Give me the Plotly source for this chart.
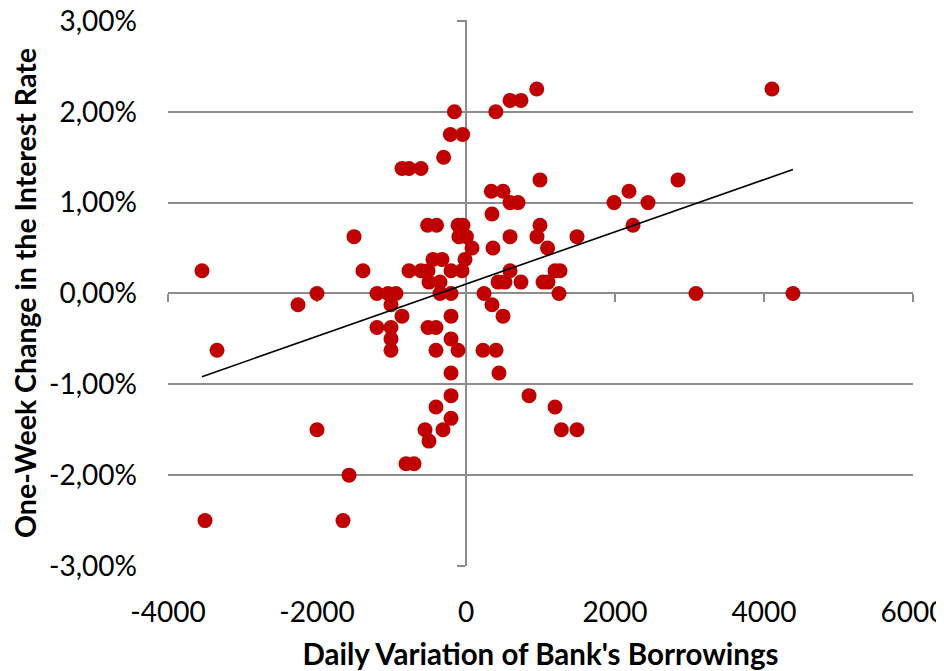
import numpy as np
import plotly.graph_objects as go

# Daily variation of bank's borrowings (x) and one-week change in interest rate (y, %)
borrow = [
    950, 4107,
    591, 738,
    -155, 400,
    -210, -45,
    -300,
    -859, -765, -604,
    993, 2846,
    340, 497, 2188,
    591, 698, 1987, 2443,
    349,
    -515, -395, -107, -40, 993, 2242,
    -1503, -95, 5, 591, 953, 1490,
    81, 362, 1095,
    -443, -322, -13,
    -3544, -1383, -765, -604, -510, -201, -54, 591, 1195, 1262,
    -497, -349, 430, 523, 738, 1034, 1101,
    -2000, -1195, -1047, -940, -349, -201, 242, 1248, 3087, 4389,
    -2255, -1007, 349,
    -859, -201, 497,
    -1195, -1007, -510, -403,
    -1007, -201,
    -3342, -1007, -403, -107, 228, 403,
    -201, 443,
    -201, 846,
    -403, 1195,
    -201,
    -2000, -550, -309, 1280, 1490,
    -497,
    -805, -698,
    -1570,
    -3503, -1651,
]
rate = [
    2.25, 2.25,
    2.125, 2.125,
    2.0, 2.0,
    1.75, 1.75,
    1.5,
    1.375, 1.375, 1.375,
    1.25, 1.25,
    1.125, 1.125, 1.125,
    1.0, 1.0, 1.0, 1.0,
    0.875,
    0.75, 0.75, 0.75, 0.75, 0.75, 0.75,
    0.625, 0.625, 0.625, 0.625, 0.625, 0.625,
    0.5, 0.5, 0.5,
    0.375, 0.375, 0.375,
    0.25, 0.25, 0.25, 0.25, 0.25, 0.25, 0.25, 0.25, 0.25, 0.25,
    0.125, 0.125, 0.125, 0.125, 0.125, 0.125, 0.125,
    0.0, 0.0, 0.0, 0.0, 0.0, 0.0, 0.0, 0.0, 0.0, 0.0,
    -0.125, -0.125, -0.125,
    -0.25, -0.25, -0.25,
    -0.375, -0.375, -0.375, -0.375,
    -0.5, -0.5,
    -0.625, -0.625, -0.625, -0.625, -0.625, -0.625,
    -0.875, -0.875,
    -1.125, -1.125,
    -1.25, -1.25,
    -1.375,
    -1.5, -1.5, -1.5, -1.5, -1.5,
    -1.625,
    -1.875, -1.875,
    -2.0,
    -2.5, -2.5,
]

x_ticks = [-4000, -2000, 0, 2000, 4000, 6000]
x_ticktext = ["-4000", "-2000", "0", "2000", "4000", "6000"]
y_ticks = [-3, -2, -1, 0, 1, 2, 3]
y_ticktext = ["-3,00%", "-2,00%", "-1,00%", "0,00%", "1,00%", "2,00%", "3,00%"]

x_title = "Daily Variation of Bank's Borrowings"
y_title = "One-Week Change in the Interest Rate"

# linear trendline over the data range
xa = np.array(borrow, dtype=float)
ya = np.array(rate, dtype=float)
slope, intercept = np.polyfit(xa, ya, 1)
tx = np.array([xa.min(), xa.max()])
ty = slope * tx + intercept

GRID = "#8c8c8c"
FONT = "Lato"
X_RANGE = [-4000, 6000]
Y_RANGE = [-3, 3.01]

fig = go.Figure()
# dummy trace keeping the label / grid axes alive
fig.add_trace(go.Scatter(x=[0], y=[0], mode="markers", marker=dict(opacity=0),
                         hoverinfo="skip", showlegend=False, xaxis="x", yaxis="y"))
fig.add_trace(go.Scatter(x=borrow, y=rate, mode="markers",
                         marker=dict(color="#C00000", size=15, line=dict(width=0)),
                         showlegend=False, xaxis="x2", yaxis="y2"))
fig.add_trace(go.Scatter(x=tx, y=ty, mode="lines",
                         line=dict(color="black", width=1.6),
                         showlegend=False, hoverinfo="skip", xaxis="x2", yaxis="y2"))

# page body adds an 8px offset, so the figure is sized to fit the window
fig.update_layout(
    width=936, height=663,
    margin=dict(l=160, r=31, t=12, b=105, autoexpand=False),
    paper_bgcolor="white", plot_bgcolor="white",
    font=dict(family=FONT, color="black"),
    xaxis=dict(range=X_RANGE, tickvals=x_ticks, ticktext=x_ticktext,
               showgrid=False, zeroline=False, showline=False, ticks="",
               automargin=False, ticklabeloverflow="allow",
               tickfont=dict(size=28, family=FONT), ticklabelstandoff=27,
               title=dict(text="<b>" + x_title + "</b>", font=dict(size=29.5, family=FONT),
                          standoff=22)),
    yaxis=dict(range=Y_RANGE, tickvals=y_ticks, ticktext=y_ticktext,
               showgrid=True, gridcolor=GRID, gridwidth=1.5, zeroline=False,
               showline=False, ticks="", automargin=False, ticklabeloverflow="allow",
               tickfont=dict(size=28, family=FONT), ticklabelstandoff=30,
               title=dict(text="<b>" + y_title + "</b>", font=dict(size=28.5, family=FONT),
                          standoff=8)),
    xaxis2=dict(range=X_RANGE, overlaying="x", anchor="free", position=3 / 6.01,
                tickvals=x_ticks, showticklabels=False, showgrid=False, zeroline=False,
                showline=True, linecolor=GRID, linewidth=1.5, automargin=False,
                ticks="outside", ticklen=8, tickwidth=1.5, tickcolor=GRID,
                layer="below traces"),
    yaxis2=dict(range=Y_RANGE, overlaying="y", anchor="free", position=0.4,
                tickvals=y_ticks, showticklabels=False, showgrid=False, zeroline=False,
                showline=True, linecolor=GRID, linewidth=1.5, automargin=False,
                ticks="outside", ticklen=8, tickwidth=1.5, tickcolor=GRID,
                layer="below traces"),
)

fig.write_html("out.html")
